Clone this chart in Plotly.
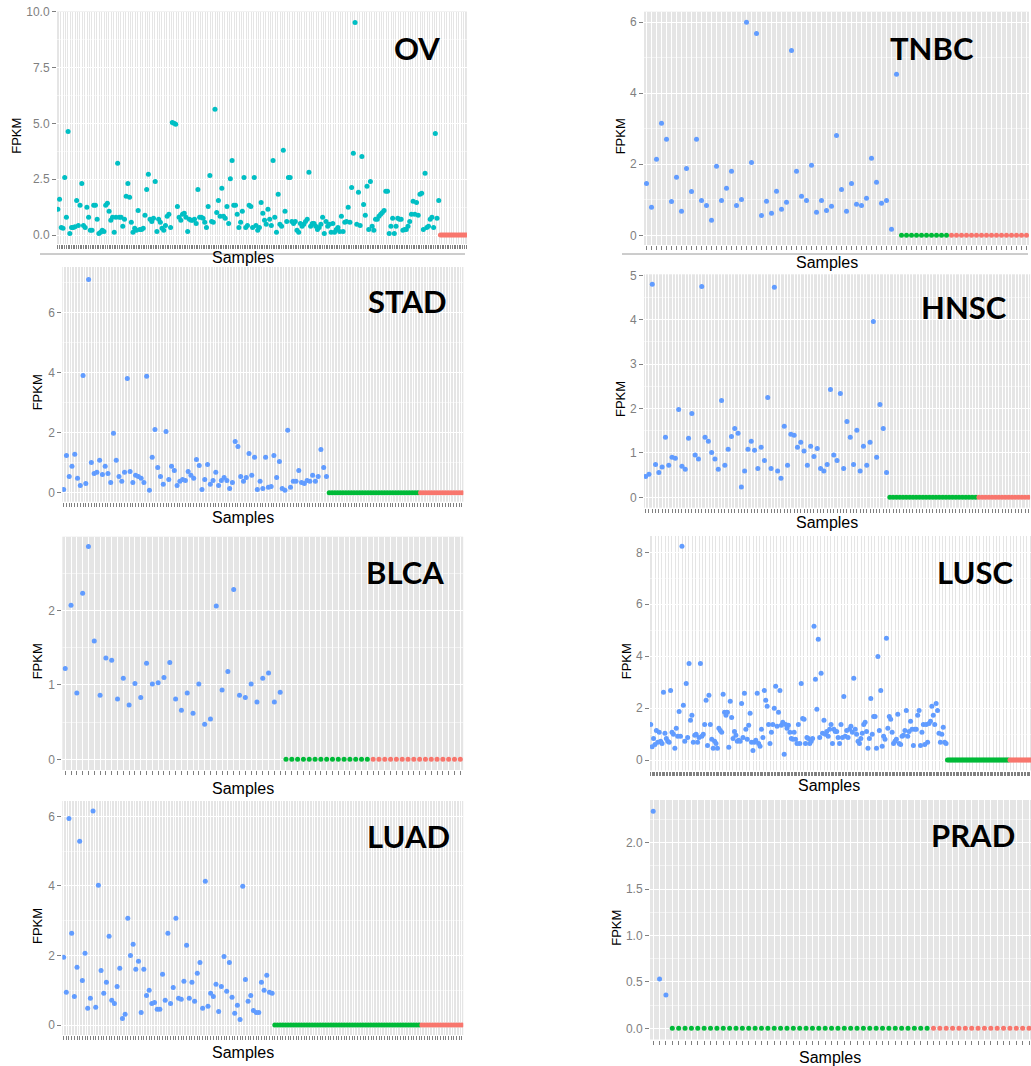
import plotly.graph_objects as go

W, H = 1031, 1066

# ---------------- data (FPKM values) ----------------
OV_TUMOR = [1.15,1.60,0.34,0.30,2.58,0.79,4.64,0.07,0.34,0.34,0.37,1.55,0.43,1.33,2.31,0.43,0.34,1.24,0.79,0.21,
            0.21,1.33,1.33,0.70,0.07,0.12,0.21,0.16,1.33,1.42,1.06,0.66,0.79,0.12,0.79,3.21,0.79,0.79,0.39,0.70,
            1.73,2.31,1.69,0.57,0.12,0.30,0.21,1.10,0.25,0.25,0.30,0.88,2.04,2.72,0.70,0.61,0.75,2.40,0.16,0.70,
            0.57,0.30,0.21,0.43,0.84,0.93,0.34,5.04,5.00,4.96,1.28,0.79,0.66,0.93,0.97,0.79,0.16,0.70,0.66,0.66,
            0.70,0.52,2.04,0.79,0.79,0.75,0.57,0.34,1.28,2.67,0.61,0.57,5.63,1.01,1.55,0.84,2.09,0.84,0.75,1.28,
            0.52,2.52,3.34,1.33,1.33,0.93,0.34,0.57,1.06,2.58,0.34,0.43,1.33,1.28,0.34,2.58,0.43,0.21,0.34,1.46,
            0.97,0.66,0.48,1.15,0.70,0.43,3.34,0.79,0.12,1.82,0.48,0.39,3.79,1.06,0.61,2.58,2.58,0.61,0.52,0.61,
            0.21,0.12,0.52,0.39,0.48,0.61,0.70,2.81,0.39,0.52,0.52,0.39,0.25,0.34,0.48,0.79,0.07,0.61,0.39,0.48,
            0.12,0.52,0.12,0.25,0.34,0.16,0.84,0.16,0.57,0.61,1.24,0.57,2.13,3.66,9.52,0.48,1.91,0.43,3.52,1.37,
            0.88,2.18,0.25,2.40,0.39,0.21,0.70,0.70,0.84,0.93,1.01,1.10,1.96,1.96,0.07,0.39,0.75,0.07,0.39,0.75,
            0.70,0.70,0.21,0.25,0.25,0.39,0.61,0.93,1.51,0.93,1.46,0.88,1.82,1.87,0.25,2.76,0.34,0.39,0.70,0.79,
            0.34,4.54,0.75,1.55]
OV_GREEN_N, OV_RED_N = 0, 16

TNBC_TUMOR = [1.46,0.79,2.14,3.15,2.70,0.95,1.63,0.68,1.88,1.23,2.70,0.98,0.84,0.42,1.94,0.98,1.32,1.80,0.84,1.01,
              5.99,2.05,5.68,0.56,0.96,0.62,1.24,0.73,0.93,5.20,1.80,1.10,0.98,1.97,0.65,0.98,0.70,0.82,2.81,1.29,
              0.68,1.46,0.87,0.84,1.04,2.17,1.49,0.90,0.98,0.17,4.53]
TNBC_GREEN_N, TNBC_RED_N = 10, 16

STAD_TUMOR = [0.11,1.24,0.54,0.88,1.28,0.48,0.24,3.91,0.31,7.11,1.01,0.64,0.68,1.08,0.61,0.88,0.64,0.34,1.98,1.08,
              0.54,0.38,0.68,3.81,0.71,0.34,0.58,0.54,0.48,0.34,3.88,0.08,1.18,2.11,0.84,0.54,0.28,2.04,0.44,0.88,
              0.74,0.24,0.38,0.44,0.41,0.71,0.58,0.48,1.11,0.91,0.11,0.44,0.94,0.28,0.41,0.68,0.24,0.41,0.51,0.41,
              0.14,0.34,1.71,1.54,0.54,0.38,0.51,1.31,0.58,1.18,0.11,0.38,0.14,1.18,0.18,0.21,1.24,0.51,1.04,0.14,
              0.08,2.08,0.18,0.38,0.38,0.74,0.34,0.31,0.41,0.38,0.58,0.38,0.54,1.44,0.84,0.54]
STAD_GREEN_N, STAD_RED_N = 33, 16

HNSC_TUMOR = [0.47,0.52,4.80,0.74,0.56,0.68,1.35,0.72,0.90,0.88,1.98,0.70,0.63,1.33,1.89,0.95,0.86,4.75,1.35,1.26,
              1.01,0.86,0.63,2.18,0.72,1.08,1.37,1.55,1.44,0.23,0.59,1.08,1.26,1.06,0.65,1.13,0.83,2.25,0.65,4.73,
              0.59,0.43,1.60,0.72,1.42,1.40,1.13,1.24,1.04,0.72,1.15,0.92,1.10,0.65,0.59,0.74,2.43,0.95,0.83,2.34,
              0.65,1.71,1.35,0.74,1.51,0.59,1.15,0.72,1.24,3.96,0.90,2.09,1.55,0.56]
HNSC_GREEN_N, HNSC_RED_N = 27, 16

BLCA_TUMOR = [1.22,2.07,0.89,2.23,2.86,1.59,0.86,1.36,1.33,0.81,1.09,0.73,1.02,0.83,1.29,1.01,1.03,1.10,1.30,0.81,
              0.66,0.89,0.62,1.01,0.47,0.54,2.06,0.93,1.18,2.28,0.86,0.83,1.01,0.77,1.09,1.16,0.77,0.90]
BLCA_GREEN_N, BLCA_RED_N = 15, 16

LUSC_TUMOR = [1.37,0.51,0.83,0.60,1.14,0.68,1.07,0.72,0.64,2.61,1.03,0.83,0.72,0.68,2.68,1.07,0.99,0.45,1.22,0.91,
              1.87,0.91,8.23,2.11,0.72,2.95,0.87,3.72,1.53,1.72,0.68,0.95,0.99,0.68,0.87,3.72,0.91,0.99,1.37,2.30,
              0.56,2.49,1.37,0.80,0.45,0.72,0.64,0.45,1.22,1.14,1.07,2.53,1.84,1.72,1.84,0.49,2.26,1.64,0.83,1.10,
              0.95,0.72,0.76,0.72,2.18,0.87,2.57,1.18,0.80,1.34,1.80,0.68,0.37,0.68,0.76,2.57,0.64,0.53,1.18,0.87,
              2.68,2.30,2.07,1.37,0.64,1.07,1.37,1.99,2.84,1.30,1.84,2.68,1.34,1.45,0.22,1.37,1.22,1.34,1.07,0.83,
              0.80,1.07,0.80,0.64,1.37,0.64,2.95,1.60,1.57,0.64,0.87,0.83,0.64,0.72,0.83,5.15,3.11,1.95,4.65,0.87,
              3.34,1.03,1.53,0.99,1.10,0.91,1.18,1.37,0.64,1.18,1.10,1.10,0.87,0.64,1.37,0.87,2.45,0.91,1.14,0.87,
              1.18,1.30,1.07,3.15,1.18,0.99,0.72,0.64,0.83,1.03,1.37,1.45,1.10,0.45,0.83,2.37,0.99,1.68,1.68,0.45,
              3.99,1.14,2.68,0.53,0.91,0.80,4.69,1.22,1.68,1.57,1.07,0.64,0.72,0.80,1.76,0.64,0.60,0.91,0.95,1.14,
              1.91,0.91,1.10,1.49,1.18,0.56,1.18,1.18,1.72,1.91,0.56,1.07,1.37,0.60,1.37,0.68,1.41,1.49,2.07,1.72,
              1.37,2.18,1.91,1.03,0.68,0.99,1.26,0.68,0.64]
LUSC_GREEN_N, LUSC_RED_N = 44, 16

LUAD_TUMOR = [1.95,0.94,5.94,2.64,0.82,1.66,5.28,1.28,2.06,0.48,0.77,6.15,0.51,4.02,1.57,0.91,1.23,2.55,0.71,0.62,
              1.11,1.63,0.19,0.31,3.07,2.00,2.32,1.60,1.83,0.36,1.60,0.85,1.00,0.62,0.65,0.45,0.45,1.46,0.71,2.64,
              0.62,1.08,3.07,0.77,0.74,1.26,2.29,0.77,1.23,0.68,1.49,1.80,0.48,4.13,0.54,0.91,0.82,1.17,0.39,1.11,
              1.97,0.97,1.80,0.80,0.34,0.57,0.16,3.99,1.31,0.68,0.85,0.42,0.36,0.36,1.23,1.00,1.43,0.94,0.91]
LUAD_GREEN_N, LUAD_RED_N = 55, 16

PRAD_TUMOR = [2.34, 0.53, 0.36]
PRAD_GREEN_N, PRAD_RED_N = 41, 16

NAMES = ["OV", "TNBC", "STAD", "HNSC", "BLCA", "LUSC", "LUAD", "PRAD"]
SERIES = {
    "OV": (OV_TUMOR, OV_GREEN_N, OV_RED_N),
    "TNBC": (TNBC_TUMOR, TNBC_GREEN_N, TNBC_RED_N),
    "STAD": (STAD_TUMOR, STAD_GREEN_N, STAD_RED_N),
    "HNSC": (HNSC_TUMOR, HNSC_GREEN_N, HNSC_RED_N),
    "BLCA": (BLCA_TUMOR, BLCA_GREEN_N, BLCA_RED_N),
    "LUSC": (LUSC_TUMOR, LUSC_GREEN_N, LUSC_RED_N),
    "LUAD": (LUAD_TUMOR, LUAD_GREEN_N, LUAD_RED_N),
    "PRAD": (PRAD_TUMOR, PRAD_GREEN_N, PRAD_RED_N),
}
Y_TICKS = {
    "OV": [0, 2.5, 5, 7.5, 10], "TNBC": [0, 2, 4, 6], "STAD": [0, 2, 4, 6], "HNSC": [0, 1, 2, 3, 4, 5],
    "BLCA": [0, 1, 2, 3], "LUSC": [0, 2, 4, 6, 8], "LUAD": [0, 2, 4, 6], "PRAD": [0, 0.5, 1.0, 1.5, 2.0],
}
Y_FMT = {"OV": ".1f", "PRAD": ".1f"}

# ---------------- layout geometry (pixels) ----------------
GEOM = {
    "OV":   dict(L=57,    s=1.708, T=11.5,  B=244,   p0=235,    v0=0, p1=11.7,  v1=10, title=(417, 48),  fx=17,  samp=(243, 258)),
    "TNBC": dict(L=644,   s=5.0,   T=11.7,  B=245,   p0=235.3,  v0=0, p1=22,    v1=6,  title=(932, 48),  fx=620, samp=(827, 262)),
    "STAD": dict(L=62.3,  s=2.766, T=267,   B=501.7, p0=492.7,  v0=0, p1=312.7, v1=6,  title=(407, 301), fx=37,  samp=(243, 518)),
    "HNSC": dict(L=644,   s=3.3,   T=274.3, B=507.7, p0=497.3,  v0=0, p1=275.3, v1=5,  title=(964, 307), fx=620, samp=(827, 522)),
    "BLCA": dict(L=62.3,  s=5.81,  T=536.7, B=770,   p0=759.3,  v0=0, p1=536,   v1=3,  title=(405, 572), fx=37,  samp=(243, 788)),
    "LUSC": dict(L=650,   s=1.42,  T=536,   B=770.5, p0=760,    v0=0, p1=552.3, v1=8,  title=(975, 572), fx=626, samp=(829, 785)),
    "LUAD": dict(L=62.3,  s=2.673, T=801,   B=1035,  p0=1025,   v0=0, p1=816.3, v1=6,  title=(408, 836), fx=37,  samp=(243, 1052)),
    "PRAD": dict(L=650,   s=6.37,  T=800,   B=1039.5,p0=1028.3, v0=0, p1=842.7, v1=2,  title=(973, 835), fx=617, samp=(830, 1057)),
}

BLUE, GREEN, RED, TEAL = "#619CFF", "#00BA38", "#F8766D", "#00BFC4"
BG = "#E5E5E5"
GREY = "#7F7F7F"
FONT = "Liberation Sans, Arial, sans-serif"


def px_x(p):
    return p / W


def px_y(p):
    return 1 - p / H


fig = go.Figure()
annotations = []
layout_axes = {}

for i, name in enumerate(NAMES):
    g = GEOM[name]
    tumor, n_green, n_red = SERIES[name]
    n = len(tumor) + n_green + n_red
    xs = list(range(n))
    xa = "x" if i == 0 else f"x{i+1}"
    ya = "y" if i == 0 else f"y{i+1}"
    xkey = "xaxis" if i == 0 else f"xaxis{i+1}"
    ykey = "yaxis" if i == 0 else f"yaxis{i+1}"

    tumor_color = TEAL if n_green == 0 else BLUE
    msize = 5
    groups = [
        (xs[:len(tumor)], tumor, tumor_color),
        (xs[len(tumor):len(tumor) + n_green], [0.0] * n_green, GREEN),
        (xs[len(tumor) + n_green:], [0.0] * n_red, RED),
    ]
    for gx, gy, col in groups:
        if not gx:
            continue
        fig.add_trace(go.Scatter(x=gx, y=gy, mode="markers", xaxis=xa, yaxis=ya,
                                 marker=dict(color=col, size=msize, line=dict(width=0)),
                                 showlegend=False, hoverinfo="skip"))

    R = min(g["L"] + n * g["s"], W)
    xr = [-0.5, -0.5 + (R - g["L"]) / g["s"]]
    sc = (g["p0"] - g["p1"]) / (g["v1"] - g["v0"])
    yr = [g["v0"] - (g["B"] - g["p0"]) / sc, g["v0"] + (g["p0"] - g["T"]) / sc]

    gw = min(1.0, g["s"] * 0.35)
    layout_axes[xkey] = dict(
        domain=[px_x(g["L"]), px_x(R)], anchor=ya, range=xr, tickmode="array", tickvals=xs,
        showticklabels=False, ticks="outside", ticklen=4, tickwidth=1, tickcolor=GREY,
        showgrid=True, gridcolor="white", gridwidth=gw, zeroline=False, showline=False, fixedrange=True,
        automargin=False,
    )
    ticks = Y_TICKS[name]
    minor = [(a + b) / 2 for a, b in zip(ticks[:-1], ticks[1:])]
    if ticks[-1] + (ticks[1] - ticks[0]) / 2 < yr[1]:
        minor.append(ticks[-1] + (ticks[1] - ticks[0]) / 2)
    layout_axes[ykey] = dict(
        domain=[px_y(g["B"]), px_y(g["T"])], anchor=xa, range=yr, tickmode="array", tickvals=ticks,
        tickformat=Y_FMT.get(name, "d"), ticks="outside", ticklen=4, tickwidth=1, tickcolor=GREY,
        tickfont=dict(family=FONT, size=12, color=GREY),
        showgrid=True, gridcolor="white", gridwidth=1.3, zeroline=False, showline=False, fixedrange=True,
        automargin=False,
        minor=dict(tickmode="array", tickvals=minor, showgrid=True, gridcolor="#F2F2F2", gridwidth=0.7, ticks=""),
    )

    annotations.append(dict(text=f"<b>{name}</b>", x=px_x(g["title"][0]), y=px_y(g["title"][1]),
                            xref="paper", yref="paper", xanchor="center", yanchor="middle", showarrow=False,
                            font=dict(family="Lato, Open Sans, sans-serif", size=31, color="black")))
    annotations.append(dict(text="FPKM", x=px_x(g["fx"]), y=px_y((g["T"] + g["B"]) / 2 + 8),
                            xref="paper", yref="paper", xanchor="center", yanchor="middle", showarrow=False,
                            textangle=-90, font=dict(family=FONT, size=13, color="black")))
    annotations.append(dict(text="Samples", x=px_x(g["samp"][0]), y=px_y(g["samp"][1]),
                            xref="paper", yref="paper", xanchor="center", yanchor="middle", showarrow=False,
                            font=dict(family=FONT, size=16, color="black")))

shapes = [
    dict(type="line", xref="paper", yref="paper", x0=px_x(40), x1=px_x(465), y0=px_y(254), y1=px_y(254),
         line=dict(color="#9A9A9A", width=1)),
    dict(type="line", xref="paper", yref="paper", x0=px_x(622), x1=px_x(1028), y0=px_y(254), y1=px_y(254),
         line=dict(color="#9A9A9A", width=1)),
]

fig.update_layout(
    width=W, height=H, margin=dict(l=0, r=0, t=0, b=0, autoexpand=False),
    paper_bgcolor="white", plot_bgcolor=BG,
    annotations=annotations, shapes=shapes, showlegend=False,
    **layout_axes,
)

fig.write_html("out.html")
